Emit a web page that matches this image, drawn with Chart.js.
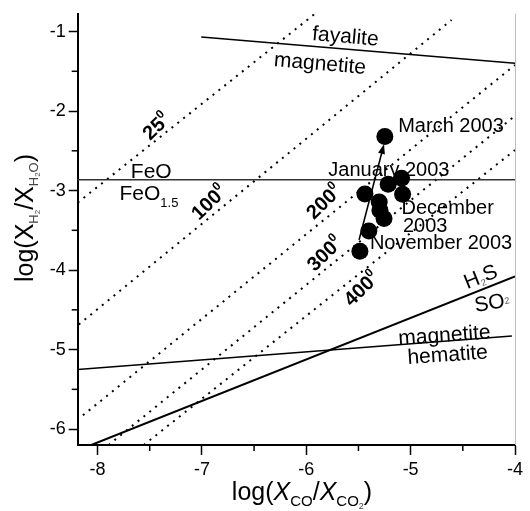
<!DOCTYPE html>
<html><head><meta charset="utf-8">
<script src="https://cdn.jsdelivr.net/npm/chart.js@4.4.1/dist/chart.umd.min.js"></script>
<style>html,body{margin:0;padding:0;background:#fff}#wrap{width:530px;height:511px}</style>
</head><body><div id="wrap"><canvas id="c" width="530" height="511"></canvas></div>
<script>
// ---- data ----
const xRange = [-8.19, -4.0];
const yRange = [-6.2, -0.777];
const xTicks = [-8, -7, -6, -5, -4];
const yTicks = [-6, -5, -4, -3, -2, -1];
const xMinor = [-7.5, -6.5, -5.5, -4.5];
const yMinor = [-5.5, -4.5, -3.5, -2.5, -1.5];

// observed gas samples
const obsX = [-5.247, -5.087, -5.215, -5.438, -5.077, -5.301, -5.294, -5.255, -5.400, -5.486];
const obsY = [-2.320, -2.844, -2.922, -3.042, -3.045, -3.145, -3.248, -3.350, -3.509, -3.764];

// isotherms (dotted)
const isoNames = ['25', '100', '200', '300', '400'];
const isoX0 = [-8.19, -8.18, -8.14, -7.894, -7.557];
const isoY0 = [-3.152, -4.684, -5.827, -6.2, -6.2];
const isoX1 = [-5.92, -4.608, -4.0, -4.0, -4.0];
const isoY1 = [-0.78, -0.855, -1.42, -2.06, -2.49];
const isoLabelX = [-7.394, -6.890, -5.789, -5.780, -5.428];
const isoLabelY = [-2.176, -3.132, -3.123, -3.776, -4.218];

// buffer lines (solid)
const fayX = [-7.006, -4.0], fayY = [-1.07, -1.40];
const feoX = [-8.19, -4.0],  feoY = [-2.865, -2.865];
const mhX  = [-8.19, -4.03], mhY  = [-5.25, -4.83];
const hsX  = [-8.06, -4.0],  hsY  = [-6.2, -4.08];

// trend arrow
const arrowX = [-5.494, -5.255], arrowY = [-3.62, -2.415];

// date labels
const dateLabels = ['March 2003', 'January 2003', 'December', '2003', 'November 2003'];
const dateX = [-5.119, -5.789, -5.087, -5.074, -5.390];
const dateY = [-2.266, -2.815, -3.298, -3.516, -3.735];

const pts = (xs, ys) => xs.map((v, i) => ({x: v, y: ys[i]}));
const FONT = '"Liberation Sans", Arial, sans-serif';

const datasets = [
  {data: pts(obsX, obsY), pointRadius: 8.5, pointHoverRadius: 8.5, pointBackgroundColor: '#000', pointBorderWidth: 0, showLine: false, order: 0},
  {data: pts(fayX, fayY), showLine: true, pointRadius: 0, borderColor: '#000', borderWidth: 1.5, order: 1},
  {data: pts(feoX, feoY), showLine: true, pointRadius: 0, borderColor: '#333', borderWidth: 1.5, order: 1},
  {data: pts(mhX, mhY), showLine: true, pointRadius: 0, borderColor: '#000', borderWidth: 1.5, order: 1},
  {data: pts(hsX, hsY), showLine: true, pointRadius: 0, borderColor: '#000', borderWidth: 2, order: 1}
];
isoNames.forEach((n, i) => {
  datasets.push({data: [{x: isoX0[i], y: isoY0[i]}, {x: isoX1[i], y: isoY1[i]}], showLine: true, pointRadius: 0,
    borderColor: '#000', borderWidth: 2, borderDash: [2, 5.5], order: 2});
});

function rich(ctx, segs, x, y, rot, align) {
  ctx.save();
  ctx.translate(x, y);
  ctx.rotate((rot || 0) * Math.PI / 180);
  ctx.textBaseline = 'alphabetic';
  ctx.textAlign = 'left';
  let w = 0;
  segs.forEach(s => { ctx.font = s.f; s.w = ctx.measureText(s.t).width; w += s.w; });
  let cx = align === 'left' ? 0 : -w / 2;
  segs.forEach(s => { ctx.font = s.f; ctx.fillStyle = s.c || '#000'; ctx.fillText(s.t, cx, s.dy || 0); cx += s.w; });
  ctx.restore();
}
const f = (sz, st) => (st ? st + ' ' : '') + sz + 'px ' + FONT;

const deco = {
  id: 'deco',
  beforeDatasetsDraw(chart) {
    const {ctx, scales: {x, y}} = chart;
    const px = v => x.getPixelForValue(v), py = v => y.getPixelForValue(v);
    // temperature labels
    isoNames.forEach((n, i) => {
      rich(ctx, [{t: n, f: f(20, 'bold')}, {t: '0', f: f(12, 'bold'), dy: -9}], px(isoLabelX[i]), py(isoLabelY[i]) + 6, -44, 'center');
    });
    // mineral buffers
    rich(ctx, [{t: 'fayalite', f: f(21)}], px(-5.630), py(-1.142), 5, 'center');
    rich(ctx, [{t: 'magnetite', f: f(21)}], px(-5.874), py(-1.483), 5, 'center');
    rich(ctx, [{t: 'FeO', f: f(21)}], px(-7.681), py(-2.844), 0, 'left');
    rich(ctx, [{t: 'FeO', f: f(21)}, {t: '1.5', f: f(13), dy: 7}], px(-7.790), py(-3.125), 0, 'left');
    rich(ctx, [{t: 'H', f: f(21)}, {t: '2', f: f(9), dy: 3, c: '#555'}, {t: 'S', f: f(21)}], px(-4.305), py(-4.16), -22, 'center');
    rich(ctx, [{t: 'SO', f: f(21)}, {t: '2', f: f(9), dy: -3, c: '#555'}], px(-4.21), py(-4.49), -10, 'center');
    rich(ctx, [{t: 'magnetite', f: f(21)}], px(-4.672), py(-4.90), -4, 'center');
    rich(ctx, [{t: 'hematite', f: f(21)}], px(-4.641), py(-5.146), -4, 'center');
    // date labels
    dateLabels.forEach((t, i) => rich(ctx, [{t, f: f(20)}], px(dateX[i]), py(dateY[i]), 0, 'left'));
  },
  afterDatasetsDraw(chart) {
    const {ctx, scales: {x, y}} = chart;
    const x0 = x.getPixelForValue(arrowX[0]), y0 = y.getPixelForValue(arrowY[0]);
    const x1 = x.getPixelForValue(arrowX[1]), y1 = y.getPixelForValue(arrowY[1]);
    const ang = Math.atan2(y1 - y0, x1 - x0);
    ctx.save();
    ctx.strokeStyle = '#000'; ctx.fillStyle = '#000'; ctx.lineWidth = 1.6;
    ctx.beginPath(); ctx.moveTo(x0, y0); ctx.lineTo(x1 - 6 * Math.cos(ang), y1 - 6 * Math.sin(ang)); ctx.stroke();
    ctx.translate(x1, y1); ctx.rotate(ang);
    ctx.beginPath(); ctx.moveTo(0, 0); ctx.lineTo(-10, -3.5); ctx.lineTo(-10, 3.5); ctx.closePath(); ctx.fill();
    ctx.restore();
  },
  afterDraw(chart) {
    const {ctx, scales: {x, y}, chartArea: a} = chart;
    ctx.save();
    ctx.strokeStyle = '#bdbdbd'; ctx.lineWidth = 1;
    ctx.beginPath(); ctx.moveTo(a.right + 0.5, a.top); ctx.lineTo(a.right + 0.5, a.bottom); ctx.stroke();
    ctx.strokeStyle = '#000'; ctx.lineWidth = 1.5;
    xMinor.forEach(v => { const p = x.getPixelForValue(v); ctx.beginPath(); ctx.moveTo(p, a.bottom); ctx.lineTo(p, a.bottom + 6); ctx.stroke(); });
    yMinor.forEach(v => { const p = y.getPixelForValue(v); ctx.beginPath(); ctx.moveTo(a.left, p); ctx.lineTo(a.left - 6, p); ctx.stroke(); });
    ctx.restore();
    rich(ctx, [
      {t: 'log(', f: f(25)}, {t: 'X', f: f(25, 'italic')}, {t: 'CO', f: f(15), dy: 6},
      {t: '/', f: f(25)}, {t: 'X', f: f(25, 'italic')}, {t: 'CO', f: f(15), dy: 6}, {t: '2', f: f(9), dy: 9, c: '#444'},
      {t: ')', f: f(25)}
    ], 302, 500, 0, 'center');
    rich(ctx, [
      {t: 'log(', f: f(25)}, {t: 'X', f: f(25)}, {t: 'H', f: f(13), dy: 5, c: '#444'}, {t: '2', f: f(8), dy: 7, c: '#444'},
      {t: '/', f: f(25)}, {t: 'X', f: f(25)}, {t: 'H', f: f(13), dy: 5, c: '#444'}, {t: '2', f: f(8), dy: 7, c: '#444'}, {t: 'O', f: f(13), dy: 5, c: '#444'},
      {t: ')', f: f(25)}
    ], 33, 218, -90, 'center');
  }
};

new Chart(document.getElementById('c'), {
  type: 'scatter',
  data: {datasets},
  plugins: [deco],
  options: {
    responsive: false, animation: false,
    layout: {padding: {left: 0, right: 15, top: 7, bottom: 0}},
    plugins: {legend: {display: false}, tooltip: {enabled: false}},
    scales: {
      x: {
        type: 'linear', min: xRange[0], max: xRange[1],
        afterBuildTicks: s => { s.ticks = xTicks.map(v => ({value: v})); },
        afterFit: s => { s.height = 66; },
        ticks: {font: {family: FONT, size: 18}, color: '#000', padding: 4, maxRotation: 0, callback: v => String(v)},
        grid: {drawOnChartArea: false, drawTicks: true, tickLength: 10, tickColor: '#000', tickWidth: 1.5},
        border: {display: true, color: '#000', width: 2}
      },
      y: {
        type: 'linear', min: yRange[0], max: yRange[1],
        afterBuildTicks: s => { s.ticks = yTicks.map(v => ({value: v})); },
        afterFit: s => { s.width = 77.7; },
        ticks: {font: {family: FONT, size: 18}, color: '#000', padding: 3, callback: v => String(v)},
        grid: {drawOnChartArea: false, drawTicks: true, tickLength: 9, tickColor: '#000', tickWidth: 1.5},
        border: {display: true, color: '#000', width: 2}
      }
    }
  }
});
</script></body></html>
